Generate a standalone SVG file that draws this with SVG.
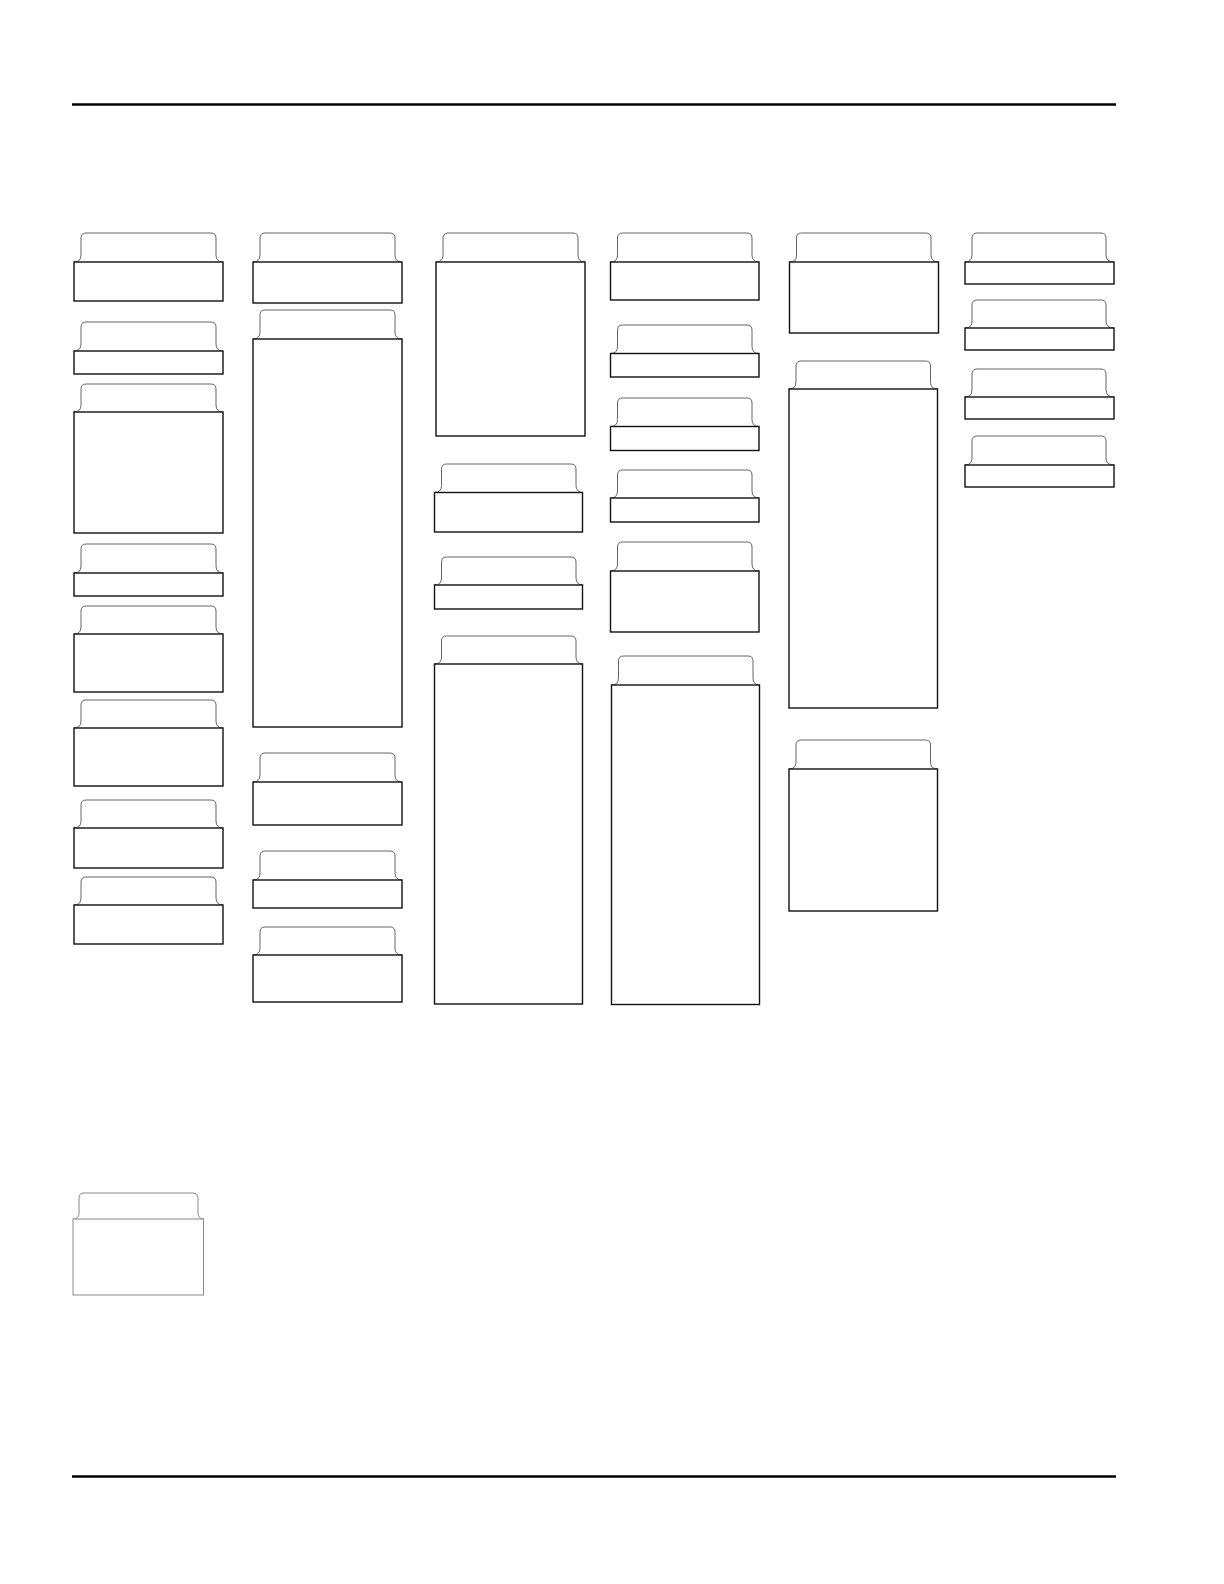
<svg xmlns="http://www.w3.org/2000/svg" width="1224" height="1584" viewBox="0 0 1224 1584">
<style>
.tab{fill:none;stroke:#666;stroke-width:1}
.box{fill:#fff;stroke:#111;stroke-width:1.4}
.lt .box{stroke:#8a8a8a;stroke-width:1}
.lt .tab{stroke:#888}
.rule{stroke:#000;stroke-width:2.5}
</style>
<rect width="1224" height="1584" fill="#fff"/>
<g id="rules">
<line class="rule" x1="72" y1="104.5" x2="1116" y2="104.5"/>
<line class="rule" x1="72" y1="1476.5" x2="1116" y2="1476.5"/>
</g>
<g id="connectors"></g>
<!-- column 1 -->
<g id="n1"><path class="tab" d="M74 262Q81 262 81 255V238Q81 233 86 233H211Q216 233 216 238V255Q216 262 223 262"/><rect class="box" x="74" y="262" width="149" height="39"/></g>
<g id="n2"><path class="tab" d="M74 351Q81 351 81 344V327Q81 322 86 322H211Q216 322 216 327V344Q216 351 223 351"/><rect class="box" x="74" y="351" width="149" height="23"/></g>
<g id="n3"><path class="tab" d="M74 412Q81 412 81 405V389Q81 384 86 384H211Q216 384 216 389V405Q216 412 223 412"/><rect class="box" x="74" y="412" width="149" height="121"/></g>
<g id="n4"><path class="tab" d="M74 573Q81 573 81 566V549Q81 544 86 544H211Q216 544 216 549V566Q216 573 223 573"/><rect class="box" x="74" y="573" width="149" height="23"/></g>
<g id="n5"><path class="tab" d="M74 634Q81 634 81 627V611Q81 606 86 606H211Q216 606 216 611V627Q216 634 223 634"/><rect class="box" x="74" y="634" width="149" height="58"/></g>
<g id="n6"><path class="tab" d="M74 728Q81 728 81 721V705Q81 700 86 700H211Q216 700 216 705V721Q216 728 223 728"/><rect class="box" x="74" y="728" width="149" height="58"/></g>
<g id="n7"><path class="tab" d="M74 828Q81 828 81 821V805Q81 800 86 800H211Q216 800 216 805V821Q216 828 223 828"/><rect class="box" x="74" y="828" width="149" height="40"/></g>
<g id="n8"><path class="tab" d="M74 905Q81 905 81 898V882Q81 877 86 877H211Q216 877 216 882V898Q216 905 223 905"/><rect class="box" x="74" y="905" width="149" height="39"/></g>
<!-- column 2 -->
<g id="n9"><path class="tab" d="M253 262Q260 262 260 255V238Q260 233 265 233H390Q395 233 395 238V255Q395 262 402 262"/><rect class="box" x="253" y="262" width="149" height="41"/></g>
<g id="n10"><path class="tab" d="M253 339Q260 339 260 332V315Q260 310 265 310H390Q395 310 395 315V332Q395 339 402 339"/><rect class="box" x="253" y="339" width="149" height="388"/></g>
<g id="n11"><path class="tab" d="M253 782Q260 782 260 775V758Q260 753 265 753H390Q395 753 395 758V775Q395 782 402 782"/><rect class="box" x="253" y="782" width="149" height="43"/></g>
<g id="n12"><path class="tab" d="M253 880Q260 880 260 873V856Q260 851 265 851H390Q395 851 395 856V873Q395 880 402 880"/><rect class="box" x="253" y="880" width="149" height="28"/></g>
<g id="n13"><path class="tab" d="M253 955Q260 955 260 948V932Q260 927 265 927H390Q395 927 395 932V948Q395 955 402 955"/><rect class="box" x="253" y="955" width="149" height="47"/></g>
<!-- column 3 -->
<g id="n14"><path class="tab" d="M436 262Q443 262 443 255V238Q443 233 448 233H573Q578 233 578 238V255Q578 262 585 262"/><rect class="box" x="436" y="262" width="149" height="174"/></g>
<g id="n15"><path class="tab" d="M434.5 492.5Q441.5 492.5 441.5 485.5V469Q441.5 464 446.5 464H571Q576 464 576 469V485.5Q576 492.5 583 492.5"/><rect class="box" x="434.5" y="492.5" width="148" height="39.5"/></g>
<g id="n16"><path class="tab" d="M434.5 585Q441.5 585 441.5 578V562Q441.5 557 446.5 557H571Q576 557 576 562V578Q576 585 583 585"/><rect class="box" x="434.5" y="585" width="148" height="24"/></g>
<g id="n17"><path class="tab" d="M434.5 664Q441.5 664 441.5 657V641Q441.5 636 446.5 636H571Q576 636 576 641V657Q576 664 583 664"/><rect class="box" x="434.5" y="664" width="148" height="340"/></g>
<!-- column 4 -->
<g id="n18"><path class="tab" d="M610.5 262Q617.5 262 617.5 255V238Q617.5 233 622.5 233H747Q752 233 752 238V255Q752 262 759 262"/><rect class="box" x="610.5" y="262" width="148.5" height="38"/></g>
<g id="n19"><path class="tab" d="M610.5 353.5Q617.5 353.5 617.5 346.5V330Q617.5 325 622.5 325H747Q752 325 752 330V346.5Q752 353.5 759 353.5"/><rect class="box" x="610.5" y="353.5" width="148.5" height="23.5"/></g>
<g id="n20"><path class="tab" d="M610.5 426.5Q617.5 426.5 617.5 419.5V403Q617.5 398 622.5 398H747Q752 398 752 403V419.5Q752 426.5 759 426.5"/><rect class="box" x="610.5" y="426.5" width="148.5" height="24"/></g>
<g id="n21"><path class="tab" d="M610.5 498Q617.5 498 617.5 491V475Q617.5 470 622.5 470H747Q752 470 752 475V491Q752 498 759 498"/><rect class="box" x="610.5" y="498" width="148.5" height="24"/></g>
<g id="n22"><path class="tab" d="M610.5 571Q617.5 571 617.5 564V547Q617.5 542 622.5 542H747Q752 542 752 547V564Q752 571 759 571"/><rect class="box" x="610.5" y="571" width="148.5" height="61"/></g>
<g id="n23"><path class="tab" d="M611.5 685Q618.5 685 618.5 678V661Q618.5 656 623.5 656H748Q753 656 753 661V678Q753 685 759.5 685"/><rect class="box" x="611.5" y="685" width="148" height="319.5"/></g>
<!-- column 5 -->
<g id="n24"><path class="tab" d="M789.5 262Q796.5 262 796.5 255V238Q796.5 233 801.5 233H926Q931 233 931 238V255Q931 262 938.5 262"/><rect class="box" x="789.5" y="262" width="149" height="71"/></g>
<g id="n25"><path class="tab" d="M789 389Q796 389 796 382V366Q796 361 801 361H925.5Q930.5 361 930.5 366V382Q930.5 389 937.5 389"/><rect class="box" x="789" y="389" width="148.5" height="319"/></g>
<g id="n26"><path class="tab" d="M789 769Q796 769 796 762V745Q796 740 801 740H925.5Q930.5 740 930.5 745V762Q930.5 769 937.5 769"/><rect class="box" x="789" y="769" width="148.5" height="142"/></g>
<!-- column 6 -->
<g id="n27"><path class="tab" d="M965 262Q972 262 972 255V238Q972 233 977 233H1101Q1106 233 1106 238V255Q1106 262 1114 262"/><rect class="box" x="965" y="262" width="149" height="22"/></g>
<g id="n28"><path class="tab" d="M965 328Q972 328 972 321V305Q972 300 977 300H1101Q1106 300 1106 305V321Q1106 328 1114 328"/><rect class="box" x="965" y="328" width="149" height="22"/></g>
<g id="n29"><path class="tab" d="M965 397Q972 397 972 390V374Q972 369 977 369H1101Q1106 369 1106 374V390Q1106 397 1114 397"/><rect class="box" x="965" y="397" width="149" height="22"/></g>
<g id="n30"><path class="tab" d="M965 465Q972 465 972 458V441Q972 436 977 436H1101Q1106 436 1106 441V458Q1106 465 1114 465"/><rect class="box" x="965" y="465" width="149" height="22"/></g>
<!-- bottom-left -->
<g id="n31" class="lt"><path class="tab" d="M73 1219Q79 1219 79 1213V1198Q79 1193 84 1193H193Q198 1193 198 1198V1213Q198 1219 204 1219"/><rect class="box" x="73" y="1219" width="130.5" height="76"/></g>
</svg>
